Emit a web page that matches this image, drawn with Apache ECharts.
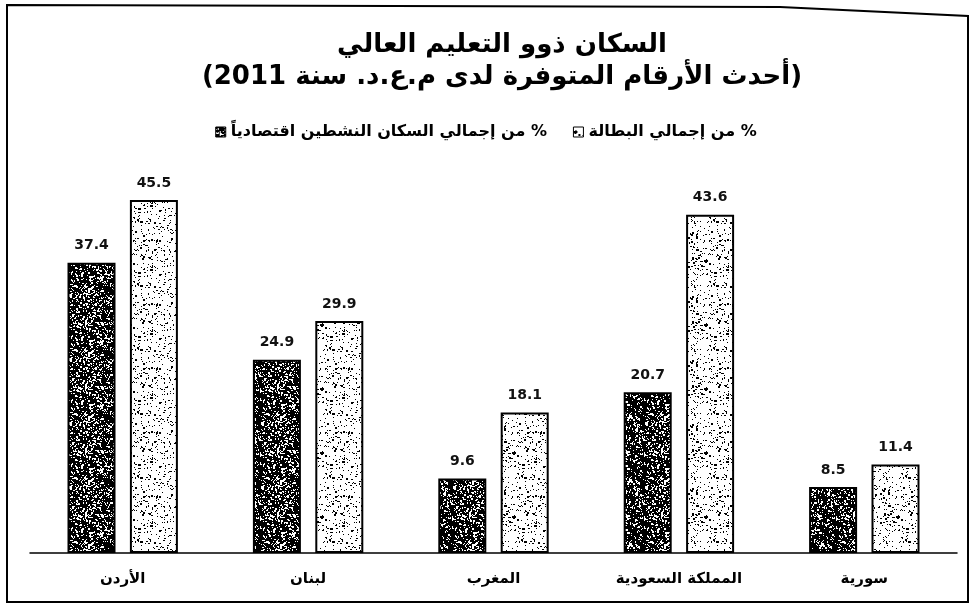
<!DOCTYPE html>
<html>
<head>
    <meta charset="utf-8"/>
    <style type="text/css">
        body, html {
            width: 100%;
            height: 100%;
            margin: 0;
            background: #fff;
        }
        #chart {
            width: 972px;
            height: 608px;
        }
    </style>
    <script src="https://cdn.jsdelivr.net/npm/echarts@6/dist/echarts.min.js"></script>
    <title>السكان ذوو التعليم العالي</title>
</head>
<body>
<div id="chart"></div>
<script type="text/javascript">
    var RLM = '\u200F';
    var countries = ['الأردن', 'لبنان', 'المغرب', 'المملكة السعودية', 'سورية'];
    var activePop = [37.4, 24.9, 9.6, 20.7, 8.5];   // % من إجمالي السكان النشطين اقتصادياً
    var unemployed = [45.5, 29.9, 18.1, 43.6, 11.4]; // % من إجمالي البطالة
    var seriesNames = ['% من إجمالي السكان النشطين اقتصادياً', '% من إجمالي البطالة'];

    // speckled textures like the printed original
    var seed = 7;
    function rnd() {
        seed = (seed * 1103515245 + 12345) % 2147483648;
        return seed / 2147483648;
    }
    function texture(bg, fg, density, grain) {
        var c = document.createElement('canvas');
        c.width = 64;
        c.height = 64;
        var ctx = c.getContext('2d');
        ctx.fillStyle = bg;
        ctx.fillRect(0, 0, 64, 64);
        ctx.fillStyle = fg;
        for (var y = 0; y < 64; y++) {
            for (var x = 0; x < 64; x++) {
                var r = rnd();
                if (r < density) {
                    // short strokes give the squiggly print look
                    if (rnd() < grain) {
                        ctx.fillRect(x, y, rnd() < 0.5 ? 2 : 1, rnd() < 0.5 ? 1 : 2);
                    } else {
                        ctx.fillRect(x, y, 1, 1);
                    }
                }
            }
        }
        return c;
    }
    var darkPattern = {image: texture('#000', '#fff', 0.17, 0.5), repeat: 'repeat'};
    var lightPattern = {image: texture('#fff', '#000', 0.08, 0.35), repeat: 'repeat'};

    var myChart = echarts.init(document.getElementById('chart'));
    var font = 'DejaVu Sans';

    var option = {
        backgroundColor: '#fff',
        animation: false,
        title: {
            text: RLM + 'السكان ذوو التعليم العالي' + RLM + '\n' + RLM + '(أحدث الأرقام المتوفرة لدى م.ع.د. سنة 2011)' + RLM,
            left: 497,
            top: 24,
            textAlign: 'center',
            textStyle: {
                fontFamily: font,
                fontSize: 26,
                fontWeight: 'bold',
                color: '#000',
                lineHeight: 32
            }
        },
        legend: {
            data: seriesNames,
            left: 'center',
            top: 119,
            itemWidth: 10,
            itemHeight: 10,
            itemGap: 26,
            icon: 'rect',
            formatter: function (name) {
                return RLM + name + RLM;
            },
            itemStyle: {borderColor: '#000', borderWidth: 1},
            textStyle: {
                fontFamily: font,
                fontSize: 16,
                fontWeight: 'bold',
                color: '#000'
            }
        },
        grid: {
            left: 30,
            right: 15,
            top: 165,
            bottom: 55
        },
        xAxis: {
            type: 'category',
            data: countries,
            axisTick: {show: false},
            axisLine: {lineStyle: {color: '#000', width: 1.5}},
            axisLabel: {
                formatter: function (v) {
                    return RLM + v + RLM;
                },
                margin: 19,
                fontFamily: font,
                fontSize: 15,
                fontWeight: 'bold',
                color: '#000'
            }
        },
        yAxis: {
            type: 'value',
            min: 0,
            max: 50,
            show: false,
            splitLine: {show: false}
        },
        series: [
            {
                name: seriesNames[0],
                type: 'bar',
                data: activePop,
                barWidth: 48,
                barGap: '30%',
                itemStyle: {color: darkPattern, borderColor: '#000', borderWidth: 2},
                label: {
                    show: true,
                    position: 'top',
                    distance: 10,
                    fontFamily: font,
                    fontSize: 14,
                    fontWeight: 'bold',
                    color: '#111'
                }
            },
            {
                name: seriesNames[1],
                type: 'bar',
                data: unemployed,
                barWidth: 48,
                barGap: '30%',
                itemStyle: {color: lightPattern, borderColor: '#000', borderWidth: 2},
                label: {
                    show: true,
                    position: 'top',
                    distance: 10,
                    fontFamily: font,
                    fontSize: 14,
                    fontWeight: 'bold',
                    color: '#111'
                }
            }
        ],
        graphic: [
            {
                type: 'polygon',
                shape: {points: [[7, 5], [780, 7], [968, 16], [968, 602], [7, 602]]},
                style: {fill: 'none', stroke: '#000', lineWidth: 2},
                silent: true
            }
        ]
    };
    myChart.setOption(option);
</script>
</body>
</html>
